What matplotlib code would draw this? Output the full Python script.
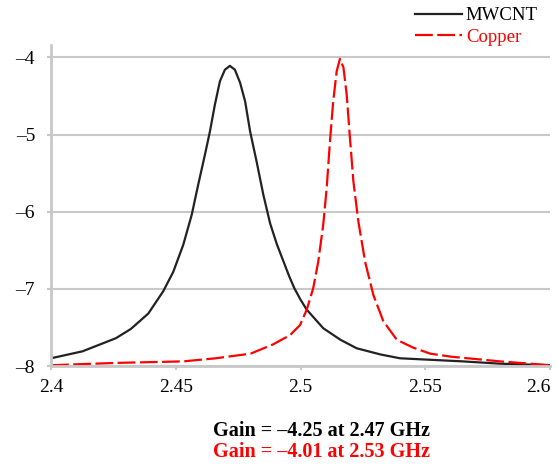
import numpy as np
import matplotlib.pyplot as plt

# values
freq_mwcnt = [2.400, 2.4126, 2.426, 2.4320, 2.4390, 2.4450, 2.4490, 2.4530, 2.4564,
              2.4590, 2.4617, 2.4637, 2.4657, 2.4677, 2.4697, 2.4717, 2.4737, 2.4758,
              2.4778, 2.4798, 2.4824, 2.4851, 2.4878, 2.4905, 2.4930, 2.4955, 2.4975,
              2.5000, 2.5025, 2.5091, 2.5160, 2.5225, 2.5320, 2.5399, 2.5524, 2.5650,
              2.5800, 2.600]
gain_mwcnt = [-7.90, -7.81, -7.64, -7.52, -7.32, -7.03, -6.78, -6.43, -6.04,
              -5.65, -5.26, -4.96, -4.61, -4.31, -4.16, -4.11, -4.16, -4.33,
              -4.57, -4.96, -5.35, -5.78, -6.15, -6.42, -6.63, -6.84, -6.99,
              -7.14, -7.27, -7.51, -7.66, -7.77, -7.85, -7.90, -7.92, -7.94,
              -7.97, -7.99]

freq_copper = [2.400, 2.426, 2.453, 2.466, 2.4800, 2.4890, 2.4958, 2.4998, 2.5025,
               2.5051, 2.5071, 2.5091, 2.5105, 2.5118, 2.5131, 2.5145, 2.5158, 2.5172,
               2.5185, 2.5198, 2.5212, 2.5232, 2.5259, 2.5292, 2.5332, 2.5386, 2.5450,
               2.5520, 2.5605, 2.5800, 2.600]
gain_copper = [-7.99, -7.96, -7.94, -7.90, -7.84, -7.72, -7.60, -7.47, -7.27,
               -6.99, -6.65, -6.17, -5.69, -5.09, -4.57, -4.18, -4.02, -4.13,
               -4.48, -5.04, -5.61, -6.13, -6.65, -7.08, -7.42, -7.66, -7.76,
               -7.84, -7.88, -7.94, -7.99]

xticks = [2.4, 2.45, 2.5, 2.55, 2.6]
xtick_labels = ['2.4', '2.45', '2.5', '2.55', '2.6']
yticks = [-8, -7, -6, -5, -4]

plt.rcParams['font.family'] = ['Liberation Serif', 'DejaVu Serif']

fig = plt.figure(figsize=(5.58, 4.65), dpi=100)
ax = fig.add_axes([0.0914, 0.2129, 0.8943, 0.6903])

grey = '#c8c8c8'
ax.plot(freq_mwcnt, gain_mwcnt, color='#222222', lw=1.6, label='MWCNT',
        solid_joinstyle='round')
ax.plot(freq_copper, gain_copper, color='red', lw=1.6, dashes=(8, 2),
        label='Copper', dash_joinstyle='round')

ax.set_xlim(2.4, 2.6)
ax.set_ylim(-8, -3.84)
ax.set_xticks(xticks)
ax.set_xticklabels(xtick_labels)
ax.set_yticks(yticks)
ax.set_yticklabels(['\u2013' + str(abs(v)) for v in yticks])
ax.get_xticklabels()[-1].set_ha('right')
ax.tick_params(axis='both', colors=grey, labelcolor='black', labelsize=14,
               length=3, width=1.5)
ax.tick_params(axis='x', pad=6.5)
ax.tick_params(axis='y', pad=8.5)
ax.grid(axis='y', color=grey, lw=1.5)
ax.set_axisbelow(True)
for side in ['top', 'right']:
    ax.spines[side].set_visible(False)
for side in ['left', 'bottom']:
    ax.spines[side].set_color(grey)
    ax.spines[side].set_linewidth(2)

fig.legend(loc='upper left', bbox_to_anchor=(0.744, 0.985), frameon=False,
           fontsize=13.5, handlelength=2.5, handletextpad=0.2, labelspacing=0.25,
           borderpad=0, borderaxespad=0, labelcolor=['black', 'red'])

fig.text(0.577, 0.074, 'Gain = \u20134.25 at 2.47 GHz', ha='center', va='center',
         fontsize=14.5, fontweight='bold', color='black')
fig.text(0.577, 0.028, 'Gain = \u20134.01 at 2.53 GHz', ha='center', va='center',
         fontsize=14.5, fontweight='bold', color='red')

fig.savefig('out.png', dpi=100)
